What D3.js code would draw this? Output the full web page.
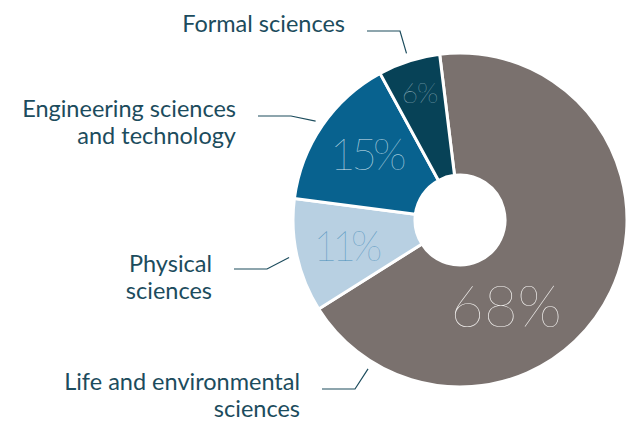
<!DOCTYPE html>
<html><head><meta charset="utf-8">
<script src="https://cdn.jsdelivr.net/npm/d3@7"></script>
<style>body{margin:0;background:#fff}svg{display:block}</style>
</head><body>
<svg id="c" width="626" height="424"></svg>
<script>
const categories = ["Life and environmental sciences","Physical sciences","Engineering sciences and technology","Formal sciences"];
const values = [68, 11, 15, 6];
const pctLabels = ["68%","11%","15%","6%"];
const labelLines = [["Life and environmental","sciences"],["Physical","sciences"],["Engineering sciences","and technology"],["Formal sciences"]];
const colors = ["#7a716e","#b8d0e2","#08628f","#074257"];
const pctColors = ["#f4f2f0","#4a8fba","#d7e6f0","#b4cbd6"];

const svg = d3.select("#c");
const cx = 460, cy = 220, R = 167, r0 = 45;
const deg = Math.PI/180;
const start = -7*deg;
const pie = d3.pie().sort(null).value(d=>d).startAngle(start).endAngle(start+2*Math.PI);
const arcs = pie(values);
const arc = d3.arc().innerRadius(r0).outerRadius(R);
const g = svg.append("g").attr("transform",`translate(${cx},${cy})`);
g.selectAll("path").data(arcs).join("path")
  .attr("d",arc).attr("fill",(d,i)=>colors[i])
  .attr("stroke","#fff").attr("stroke-width",3).attr("stroke-linejoin","miter");

// percentage labels
const pctPos = [{a:152,r:98,s:58,ls:0},{a:null,r:120,s:41,ls:-5},{a:null,r:116,s:44,ls:-4},{a:null,r:134,s:28,ls:-1}];
arcs.forEach((d,i)=>{
  const p = pctPos[i];
  const a = p.a!==null ? p.a*deg : (d.startAngle+d.endAngle)/2;
  const x = p.r*Math.sin(a), y = -p.r*Math.cos(a);
  g.append("text").attr("x",x - p.ls/2).attr("y",y).attr("dy","0.36em")
   .attr("text-anchor","middle").attr("font-family","Lato").attr("font-weight",100)
   .attr("letter-spacing",p.ls)
   .attr("font-size",p.s).attr("fill",pctColors[i]).text(pctLabels[i]);
});

// leader lines and category labels
const lead = [{a:211.7,tx:300,ty:389.5},{a:null,tx:212,ty:271.5},{a:null,tx:236,ty:116.5},{a:null,tx:345,ty:32}];
const lineY = [389,269,116,31];
const textCol = "#1c4c5d";
arcs.forEach((d,i)=>{
  const L = lead[i];
  const a = L.a!==null ? L.a*deg : (d.startAngle+d.endAngle)/2;
  const ex = cx + 175*Math.sin(a), ey = cy - 175*Math.cos(a);
  const hx1 = L.tx + 22, hx2 = hx1 + 33;
  svg.append("path").attr("d",`M${hx1},${lineY[i]}H${hx2}L${ex},${ey}`)
    .attr("fill","none").attr("stroke",textCol).attr("stroke-width",1.2);
  labelLines[i].forEach((ln,j)=>{
    svg.append("text").attr("text-anchor","end").attr("font-family","Lato")
      .attr("font-size",23.5).attr("fill",textCol)
      .attr("x",L.tx).attr("y",L.ty + j*27.5).text(ln);
  });
});
</script>
</body></html>
